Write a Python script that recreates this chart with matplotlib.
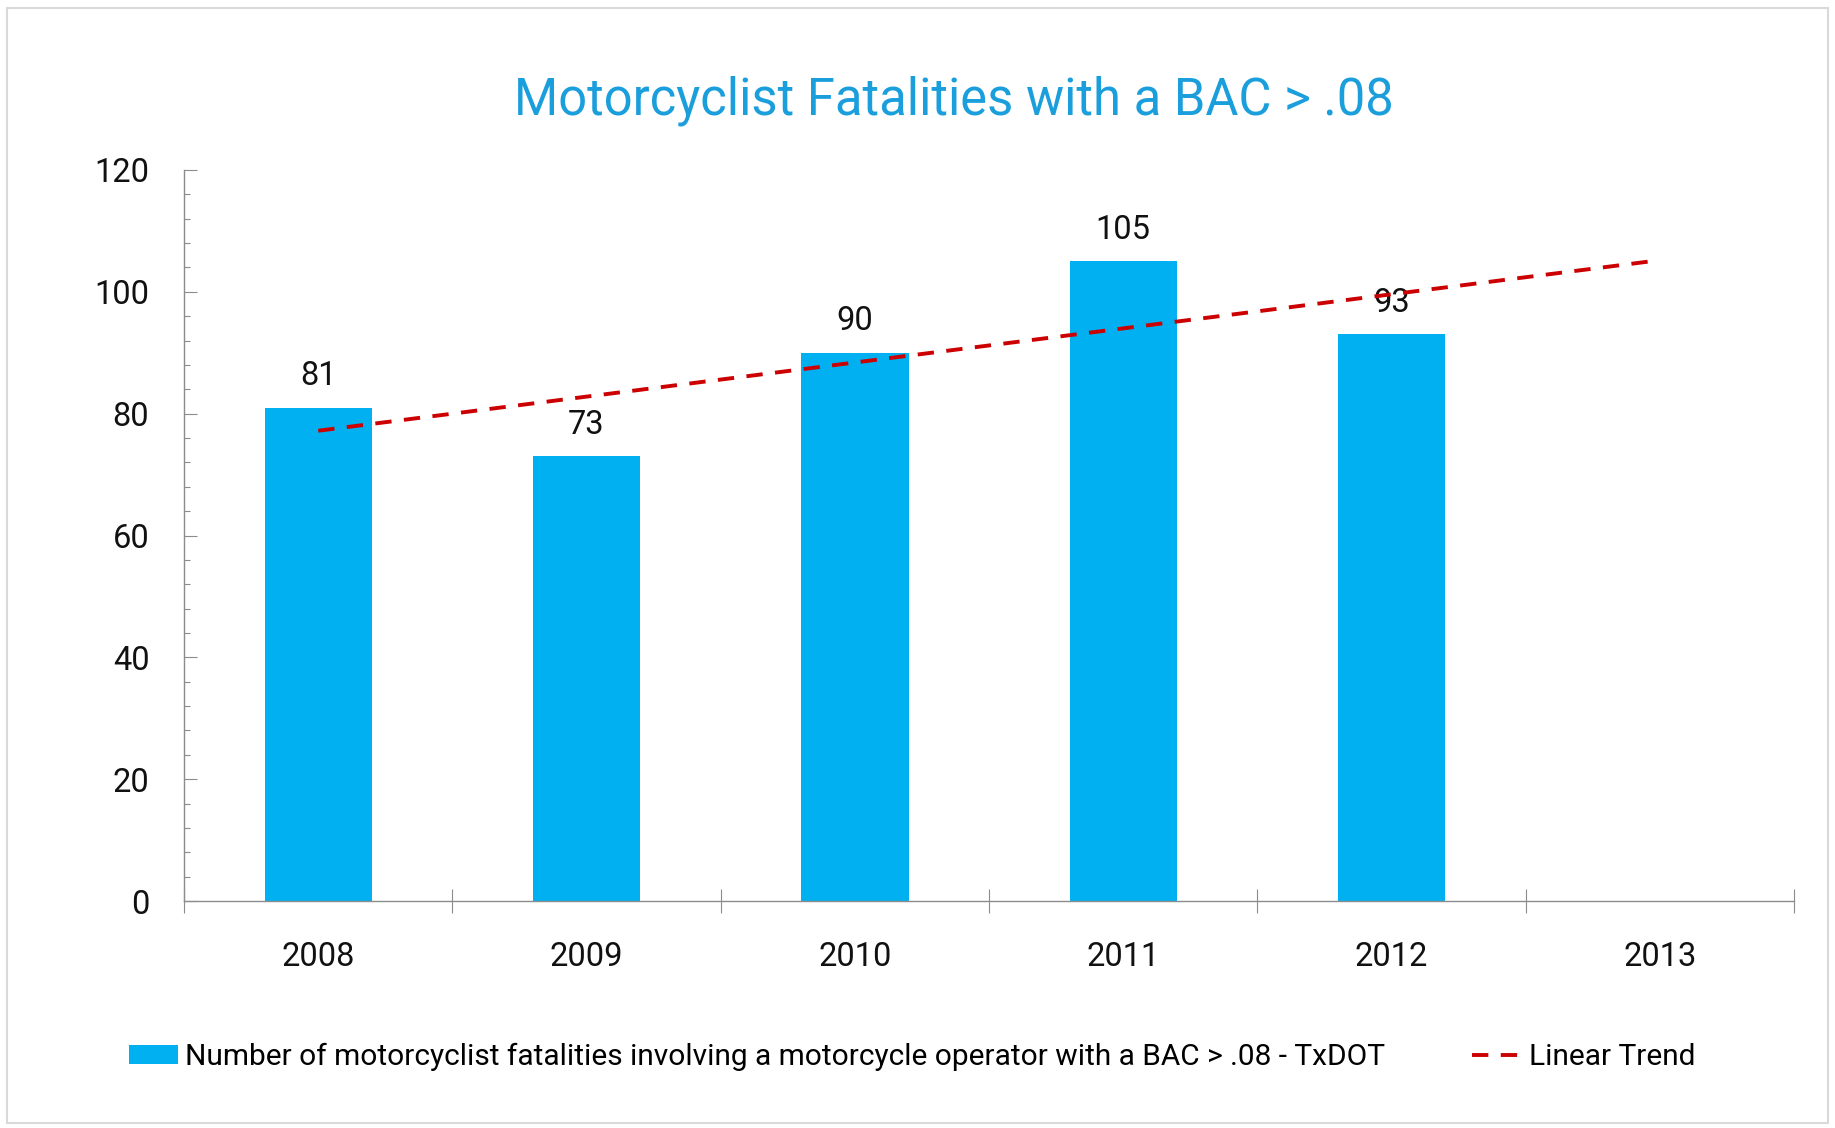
import numpy as np
from matplotlib import pyplot as plt
from matplotlib.patches import Rectangle

years = ["2008", "2009", "2010", "2011", "2012", "2013"]
fatalities = [81, 73, 90, 105, 93]
bar_label = "Number of motorcyclist fatalities involving a motorcycle operator with a BAC > .08 - TxDOT"
trend_label = "Linear Trend"
title = "Motorcyclist Fatalities with a BAC > .08"

plt.rcParams['font.family'] = ['Roboto', 'DejaVu Sans']

fig = plt.figure(figsize=(18.35, 11.28), dpi=100)
ax = fig.add_axes([0.1003, 0.2012, 0.8774, 0.6481])

x_bars = np.arange(len(fatalities))
bars = ax.bar(x_bars, fatalities, width=0.40, color="#00B0F0", label=bar_label, zorder=2)
ax.bar_label(bars, padding=11, fontsize=23.5, color="#111111")

# linear trend fitted on the known years, carried on to the last year
slope, inter = np.polyfit(x_bars, fatalities, 1)
x_trend = np.arange(len(years))
trend, = ax.plot(x_trend, slope * x_trend + inter, color="#CC0000", lw=2.8,
                 dashes=(4.2, 3.2), label=trend_label, zorder=3)

ax.set_xlim(-0.5, len(years) - 0.5)
ax.set_ylim(0, 120)
ax.set_yticks(np.arange(0, 121, 20))
ax.set_yticks(np.arange(0, 121, 4), minor=True)
ax.set_xticks(x_trend)
ax.set_xticklabels(years)
ax.set_xticks(np.arange(-0.5, len(years)), minor=True)

for s in ["top", "right"]:
    ax.spines[s].set_visible(False)
for s in ["left", "bottom"]:
    ax.spines[s].set_color("#8c8c8c")
    ax.spines[s].set_linewidth(1.0)

ax.tick_params(axis="y", which="major", direction="in", length=9.5, width=0.8,
               color="#8c8c8c", labelsize=23.5, pad=25, labelcolor="#111111")
ax.tick_params(axis="y", which="minor", direction="in", length=4.5, width=0.8,
               color="#8c8c8c")
ax.tick_params(axis="x", which="major", length=0, labelsize=23.5, pad=29,
               labelcolor="#111111")
ax.tick_params(axis="x", which="minor", direction="inout", length=17, width=0.8,
               color="#8c8c8c")

fig.text(0.52, 0.911, title, ha="center", va="center", fontsize=36.5, color="#1A9FDC")

fig.legend(handles=[bars, trend], loc="center", bbox_to_anchor=(0.497, 0.063), ncol=2,
           frameon=False, fontsize=21.5, handlelength=1.65, handleheight=0.6,
           handletextpad=0.25, columnspacing=2.9)

fig.patches.append(Rectangle((0.004, 0.004), 0.992, 0.989, transform=fig.transFigure,
                             fill=False, edgecolor="#d9d9d9", lw=1.5))

plt.savefig("out.png", dpi=100)
